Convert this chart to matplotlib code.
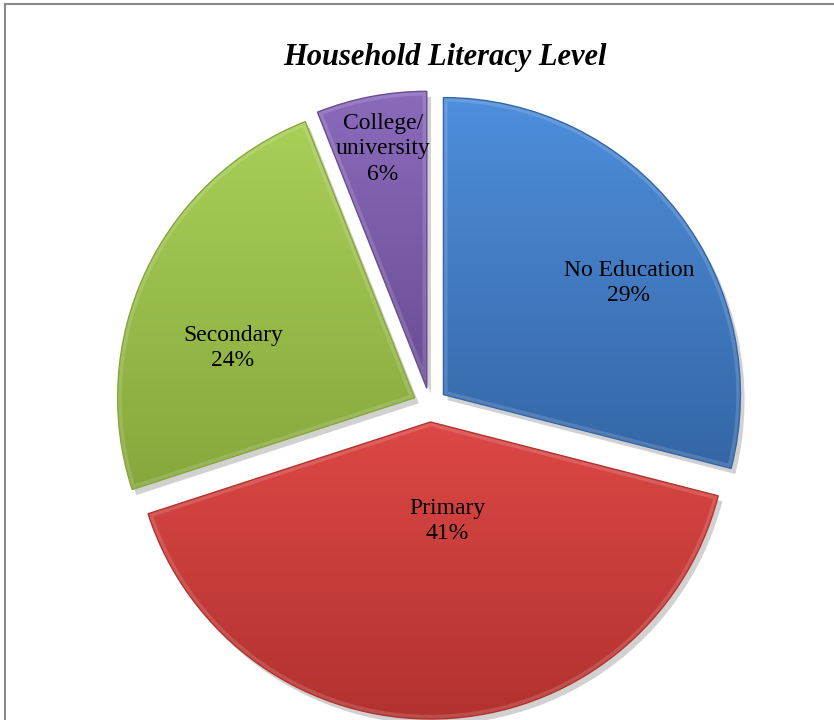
import numpy as np
import matplotlib
matplotlib.use("Agg")
import matplotlib.pyplot as plt
import matplotlib.patheffects as pe
from matplotlib.colors import LinearSegmentedColormap
from matplotlib.lines import Line2D
from matplotlib.patches import PathPatch

# Household literacy shares (percent)
categories = ["No Education", "Primary", "Secondary", "College/\nuniversity"]
shares = [29, 41, 24, 6]

# slice colours: top and bottom of the vertical gradient
top_colors = ["#4E8EDB", "#DC4845", "#A8CF58", "#8B6ABC"]
bottom_colors = ["#3566A6", "#B2322F", "#87A73C", "#6A4D93"]

# label anchors in pixels from the top-left corner
label_px = [(629, 283), (447, 521), (233, 348), (383, 149)]

W, H = 834, 720
cx, cy, R = 430, 405, 297      # pie centre / radius in pixels
explode = 17 / R

fig = plt.figure(figsize=(W / 100, H / 100), dpi=100)
ax = fig.add_axes([0, 0, 1, 1])

wedges, _ = ax.pie(shares, startangle=90, counterclock=False,
                   explode=[explode] * len(shares), colors=top_colors,
                   radius=1, wedgeprops=dict(linewidth=0))

grad = np.linspace(0, 1, 256).reshape(-1, 1)
for w, c_top, c_bot in zip(wedges, top_colors, bottom_colors):
    w.set_path_effects([pe.SimplePatchShadow(offset=(3, -4), shadow_rgbFace="k", alpha=0.18),
                        pe.Normal()])
    path = w.get_path()
    ext = path.get_extents()
    cmap = LinearSegmentedColormap.from_list("g", [c_top, c_bot])
    im = ax.imshow(grad, cmap=cmap, aspect="auto", interpolation="bilinear",
                   extent=(ext.x0, ext.x1, ext.y0, ext.y1), origin="upper", zorder=2)
    im.set_clip_path(w)
    # bevel: light band on the inside of the edge, dark rim outside
    hl = PathPatch(path, fill=False, edgecolor="white", linewidth=6,
                   alpha=0.14, zorder=3)
    ax.add_patch(hl)
    hl.set_clip_path(w)
    rim = PathPatch(path, fill=False, edgecolor=c_bot, linewidth=1.0, zorder=4)
    ax.add_patch(rim)

for (px, py), cat, s in zip(label_px, categories, shares):
    ax.text((px - cx) / R, (cy - py) / R, f"{cat}\n{s}%", ha="center", va="center",
            fontsize=17, family="Liberation Serif", linespacing=1.3, zorder=5)

ax.set_xlim(-cx / R, (W - cx) / R)
ax.set_ylim(-(H - cy) / R, cy / R)
ax.set_aspect("equal", adjustable="box")
ax.axis("off")

fig.text(445 / W, 1 - 57 / H, "Household Literacy Level", ha="center", va="center",
         fontsize=22, family="Liberation Serif", fontweight="bold", fontstyle="italic")

# chart frame (top and left edges visible)
fig.add_artist(Line2D([5 / W, 1], [1 - 4 / H, 1 - 4 / H], color="#8a8a8a", lw=1.5))
fig.add_artist(Line2D([5 / W, 5 / W], [0, 1 - 4 / H], color="#8a8a8a", lw=1.5))

fig.savefig("out.png", dpi=100, facecolor="white")
